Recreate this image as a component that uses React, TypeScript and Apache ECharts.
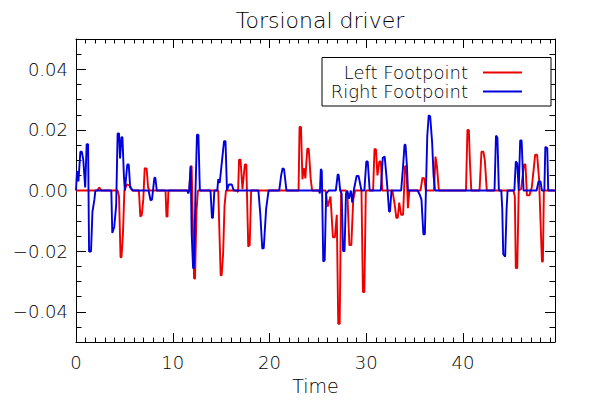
import React, { useEffect, useRef } from "react";
import * as echarts from "echarts";

const seriesNames = ["Left Footpoint", "Right Footpoint"];
const seriesColors = ["#ee0000", "#0000dd"];

// [time, value]
const leftFootpoint: [number, number][] = [
  [0, 0], [2.2, 0], [2.4, 0.001], [2.6, 0],
  [4.3, 0], [4.45, -0.002], [4.6, -0.022], [4.7, -0.022], [4.85, -0.0144], [5.0, 0],
  [5.25, 0.002], [5.6, 0.0015], [5.8, 0],
  [6.5, 0], [6.65, -0.0086], [6.8, -0.008], [6.95, -0.003], [7.1, 0.0074], [7.3, 0.0072], [7.45, 0.001], [7.6, 0],
  [9.25, 0], [9.35, -0.0086], [9.45, -0.0086], [9.55, 0],
  [11.7, 0], [11.85, 0.008], [11.95, 0.008], [12.2, -0.029], [12.3, -0.029], [12.45, -0.0069], [12.6, 0],
  [14.7, 0], [14.95, -0.028], [15.05, -0.028], [15.2, -0.021], [15.35, -0.005], [15.5, 0],
  [16.6, 0], [16.75, -0.0005], [16.85, 0.0102], [17.0, 0.0102], [17.2, 0.0005], [17.45, 0.0086], [17.6, 0.0086],
  [17.8, -0.0185], [17.95, -0.018], [18.1, 0],
  [23.0, 0], [23.1, 0.021], [23.25, 0.021], [23.4, 0.0037], [23.55, 0.0074], [23.7, 0.004], [23.9, 0.0138],
  [24.05, 0.0138], [24.25, 0.004], [24.4, 0],
  [25.8, 0], [26.0, -0.0053], [26.3, -0.002], [26.55, -0.0154], [26.75, -0.0154], [26.95, -0.008],
  [27.1, -0.044], [27.25, -0.044], [27.4, 0],
  [27.9, 0], [28.05, -0.0015], [28.25, -0.018], [28.45, -0.018], [28.65, -0.003], [28.85, 0],
  [29.5, 0], [29.65, -0.0335], [29.8, -0.0335], [29.95, 0],
  [30.7, 0], [30.85, 0.0138], [31.0, 0.0135], [31.15, 0.005], [31.35, 0.0096], [31.5, 0.0096], [31.65, 0],
  [32.7, 0], [32.95, -0.005], [33.1, -0.009], [33.25, -0.009], [33.4, -0.004], [33.6, -0.008], [33.8, -0.008],
  [34.0, 0.008], [34.15, 0.008], [34.3, -0.0058], [34.45, 0],
  [35.6, 0], [35.8, 0.0042], [36.0, 0.004], [36.15, 0],
  [37.0, 0], [37.15, 0.0112], [37.3, 0.008], [37.5, 0],
  [40.3, 0], [40.45, 0.02], [40.6, 0.02], [40.7, 0.01], [40.85, 0],
  [41.7, 0], [41.9, 0.0128], [42.1, 0.0128], [42.25, 0.01], [42.45, 0],
  [45.2, 0], [45.35, -0.002], [45.45, -0.0256], [45.6, -0.0256], [45.75, 0], [46.0, 0.0005],
  [46.3, 0.0086], [46.45, 0.0086], [46.6, -0.0016], [46.85, -0.0016], [47.1, 0.001],
  [47.45, 0.0118], [47.65, 0.0118], [47.85, 0.004], [48.15, -0.0234], [48.25, -0.0234], [48.35, 0],
  [49.5, 0],
];

const rightFootpoint: [number, number][] = [
  [0, 0], [0.1, 0.0064], [0.25, 0.003], [0.45, 0.0128], [0.6, 0.0128], [0.75, 0.0102], [0.95, 0.001],
  [1.1, 0.0153], [1.25, 0.0153], [1.35, -0.0201], [1.55, -0.0201], [1.7, -0.007], [1.9, -0.003], [2.0, 0],
  [3.65, 0], [3.75, -0.014], [3.95, -0.012], [4.15, -0.005], [4.3, 0.0188], [4.45, 0.0188], [4.55, 0.0106],
  [4.7, 0.0176], [4.8, 0.0176], [4.95, 0.0048], [5.05, 0], [5.3, 0.0086], [5.45, 0.0086], [5.6, 0.001], [5.9, 0],
  [7.5, 0], [7.7, -0.0032], [7.85, -0.003], [8.1, 0.0042], [8.2, 0.0042], [8.35, 0],
  [11.5, 0], [11.6, -0.001], [11.7, 0], [11.85, 0.008], [11.95, -0.014], [12.1, -0.0256], [12.2, -0.0256],
  [12.35, 0], [12.5, 0.0184], [12.65, 0.0184], [12.8, 0],
  [13.9, 0], [14.05, -0.009], [14.15, -0.009], [14.3, 0],
  [14.6, 0], [14.7, 0.0038], [14.85, 0.0025], [15.3, 0.0163], [15.45, 0.0163], [15.6, 0], [15.8, 0.002],
  [16.1, 0.002], [16.3, 0],
  [18.85, 0], [19.05, -0.008], [19.25, -0.0192], [19.4, -0.019], [19.65, -0.006], [19.9, 0],
  [21.0, 0], [21.2, 0.005], [21.35, 0.0074], [21.5, 0.007], [21.75, 0],
  [25.1, 0], [25.2, -0.001], [25.3, 0.0071], [25.4, 0.0065], [25.55, -0.0234], [25.7, -0.023], [25.85, -0.001], [26.1, 0],
  [26.85, 0], [27.05, 0.0054], [27.15, 0.005], [27.3, 0],
  [27.45, -0.001], [27.6, -0.02], [27.75, -0.02], [27.9, -0.001], [28.05, 0], [28.2, -0.0027], [28.4, 0],
  [28.55, -0.004], [28.7, 0], [29.0, 0.0048], [29.2, 0.0048], [29.5, 0],
  [29.8, 0], [30.0, 0.0096], [30.15, 0.0096], [30.35, 0],
  [31.5, 0], [31.7, 0.0108], [31.9, 0.0112], [32.1, 0.004], [32.2, 0], [32.35, -0.0069], [32.45, -0.0069], [32.6, 0],
  [33.6, 0], [33.8, 0.008], [33.95, 0.0151], [34.05, 0.0151], [34.2, 0.008], [34.3, 0],
  [35.3, 0], [35.5, -0.0012], [35.7, -0.003], [35.9, -0.0144], [36.05, -0.0144], [36.3, 0.018], [36.45, 0.0248],
  [36.6, 0.0245], [36.8, 0.016], [36.95, 0.005], [37.1, 0],
  [43.25, 0], [43.4, 0.0181], [43.55, 0.0175], [43.7, 0],
  [43.95, 0], [44.05, -0.006], [44.15, -0.021], [44.35, -0.0218], [44.5, -0.006], [44.6, 0],
  [45.3, 0], [45.45, 0.0096], [45.6, 0.009], [45.75, 0], [45.9, 0.0165], [46.05, 0.0165], [46.25, 0],
  [47.6, 0], [47.8, 0.003], [48.0, 0.003], [48.15, 0],
  [48.4, 0], [48.5, 0.0144], [48.7, 0.014], [48.8, 0],
  [49.5, 0],
];

const xRange = [0, 49.5];
const yRange = [-0.05, 0.05];
const xMajorTicks = [0, 10, 20, 30, 40];
const yMajorTicks = [-0.04, -0.02, 0, 0.02, 0.04];
const titleText = "Torsional driver";
const xAxisName = "Time";

const xMinorTicks: number[] = [];
for (let i = 1; i < 50; i++) if (i % 10 !== 0) xMinorTicks.push(i);
const yMinorTicks: number[] = [];
for (let i = -9; i <= 9; i++) if (i % 4 !== 0) yMinorTicks.push(Math.round(i * 5) / 1000);

const FONT = "DejaVu Sans";
const WEIGHT = 200;

function fmtY(v: number) {
  const s = Math.abs(v).toFixed(2);
  return (v < -1e-9 ? "\u2212" : "") + s;
}

export default function App() {
  const ref = useRef<HTMLDivElement>(null);
  useEffect(() => {
    if (!ref.current) return;
    const chart = echarts.init(ref.current, undefined, { renderer: "svg" });
    const lineStyle = { color: "#000", width: 1 };
    const mkX = (position: string, ticks: number[], len: number, labels: boolean, line: boolean, name?: string) => ({
      type: "value",
      position,
      min: xRange[0],
      max: xRange[1],
      axisLine: { show: line, onZero: false, lineStyle },
      axisTick: { show: true, inside: true, length: len, customValues: ticks, lineStyle },
      axisLabel: labels
        ? { show: true, customValues: ticks, margin: 11, fontFamily: FONT, fontWeight: WEIGHT, fontSize: 18, color: "#000" }
        : { show: false },
      splitLine: { show: false },
      name: name || "",
      nameLocation: "middle",
      nameGap: 33,
      nameTextStyle: { fontFamily: FONT, fontWeight: WEIGHT, fontSize: 19, color: "#000" },
    });
    const mkY = (position: string, ticks: number[], len: number, labels: boolean, line: boolean) => ({
      type: "value",
      position,
      min: yRange[0],
      max: yRange[1],
      axisLine: { show: line, onZero: false, lineStyle },
      axisTick: { show: true, inside: true, length: len, customValues: ticks, lineStyle },
      axisLabel: labels
        ? { show: true, customValues: ticks, margin: 8, formatter: fmtY, fontFamily: FONT, fontWeight: WEIGHT, fontSize: 18, color: "#000" }
        : { show: false },
      splitLine: { show: false },
    });
    const legendX = 468;
    const legendY = [72.5, 91.5];
    chart.setOption({
      animation: false,
      backgroundColor: "#fff",
      title: {
        text: titleText,
        left: 315,
        textAlign: "center",
        top: 4,
        textStyle: { fontFamily: FONT, fontSize: 22, fontWeight: WEIGHT, color: "#000" },
      },
      grid: { left: 76, top: 39, width: 479, height: 310.5, containLabel: false },
      xAxis: [
        mkX("bottom", xMajorTicks, 9, true, true, xAxisName),
        mkX("bottom", xMinorTicks, 4.5, false, false),
        mkX("top", xMajorTicks, 9, false, true),
        mkX("top", xMinorTicks, 4.5, false, false),
      ],
      yAxis: [
        mkY("left", yMajorTicks, 10, true, true),
        mkY("left", yMinorTicks, 5.5, false, false),
        mkY("right", yMajorTicks, 10, false, true),
        mkY("right", yMinorTicks, 5.5, false, false),
      ],
      series: [
        {
          name: seriesNames[0],
          type: "line",
          data: leftFootpoint,
          showSymbol: false,
          lineStyle: { color: seriesColors[0], width: 1.9 },
          itemStyle: { color: seriesColors[0] },
          xAxisIndex: 0,
          yAxisIndex: 0,
          z: 2,
        },
        {
          name: seriesNames[1],
          type: "line",
          data: rightFootpoint,
          showSymbol: false,
          lineStyle: { color: seriesColors[1], width: 1.9 },
          itemStyle: { color: seriesColors[1] },
          xAxisIndex: 0,
          yAxisIndex: 0,
          z: 3,
        },
      ],
      graphic: [
        {
          type: "rect",
          shape: { x: 322, y: 57.5, width: 229, height: 48.5 },
          style: { fill: "#fff", stroke: "#000", lineWidth: 1 },
          z: 10,
        },
        ...seriesNames.map((n, i) => ({
          type: "text",
          x: legendX,
          y: legendY[i],
          style: {
            text: n,
            fontFamily: FONT,
            fontWeight: WEIGHT,
            fontSize: 18,
            fill: "#000",
            align: "right",
            verticalAlign: "middle",
          },
          z: 11,
        })),
        ...seriesNames.map((n, i) => ({
          type: "line",
          shape: { x1: 483, y1: legendY[i], x2: 522, y2: legendY[i] },
          style: { stroke: seriesColors[i], lineWidth: 2 },
          z: 11,
        })),
      ],
    });
    return () => chart.dispose();
  }, []);
  return <div ref={ref} style={{ position: "fixed", left: 0, top: 0, width: 600, height: 400 }} />;
}
